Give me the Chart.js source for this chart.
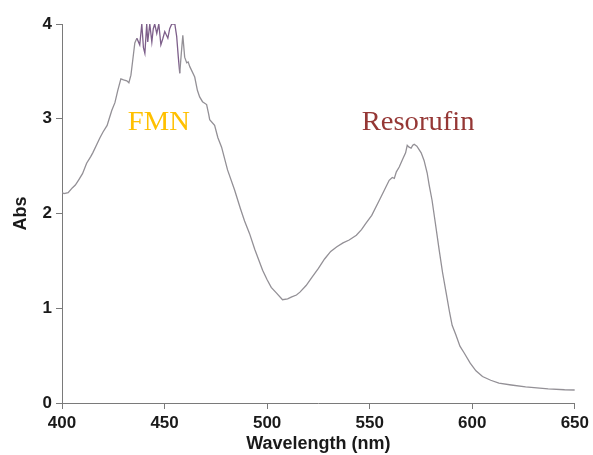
<!DOCTYPE html>
<html>
<head>
<meta charset="utf-8">
<script src="https://cdn.jsdelivr.net/npm/chart.js@4"></script>
<style>
  html, body { margin: 0; padding: 0; background: #fff; }
  #wrap { width: 593px; height: 455px; }
</style>
</head>
<body>
<div id="wrap"><canvas id="myChart" width="593" height="455"></canvas></div>
<script>
// Absorbance spectrum
const wavelengths = [
  400, 401, 403, 405, 406.5, 408, 410, 412, 414, 415, 417, 418.5, 420, 422, 423, 424.3, 425.8, 427.2,
  428.7, 430, 431.6, 432.6, 433.6, 434.5, 435.5, 436.5, 437.9, 438.9, 439.7, 440.4, 441.3, 441.8,
  442.8, 443.8, 444.5, 445.2, 446.2, 447.2, 448.2, 449.2, 450.1, 451.6, 452.5, 453.5, 455, 455.9,
  456.7, 457.4, 458.2, 458.9, 459.8, 460.8, 461.5, 462.3, 464.7, 466, 467.1, 468.5, 470.5, 471.5,
  472, 474.4, 476, 477.8, 480.7, 484.1, 487, 489, 491.4, 494, 497.8, 500, 502, 504.6, 507.5, 510,
  512, 514.3, 516, 519, 522, 525, 528, 531, 534, 537, 540, 543.5, 546, 548.3, 551, 554.7, 557,
  559.5, 561, 562, 563, 564.4, 566, 567.5, 568.3, 569.2, 570.2, 571, 571.7, 573, 575.1, 576.5,
  578, 579, 580.4, 582, 583.9, 585.5, 587.3, 589, 590.2, 592, 594, 596, 599, 601.8, 605, 609, 613,
  619, 626, 637, 645, 650
];
const absorbance = [
  2.22, 2.21, 2.22, 2.27, 2.30, 2.35, 2.42, 2.53, 2.60, 2.64, 2.73, 2.80, 2.86, 2.93, 3.00, 3.09, 3.17, 3.30,
  3.42, 3.41, 3.40, 3.38, 3.46, 3.62, 3.80, 3.85, 3.78, 4.00, 3.75, 3.69, 4.00, 3.81,
  4.00, 3.81, 3.95, 4.00, 3.90, 4.00, 3.78, 3.85, 3.92, 3.85, 3.95, 4.00, 4.00, 3.87,
  3.65, 3.48, 3.70, 3.88, 3.65, 3.59, 3.60, 3.55, 3.44, 3.30, 3.23, 3.18, 3.15, 3.05,
  2.99, 2.93, 2.80, 2.70, 2.46, 2.25, 2.05, 1.92, 1.79, 1.62, 1.40, 1.30, 1.22, 1.16, 1.09, 1.10,
  1.12, 1.14, 1.17, 1.24, 1.33, 1.42, 1.52, 1.60, 1.65, 1.69, 1.72, 1.77, 1.83, 1.90, 1.98, 2.14, 2.24,
  2.35, 2.38, 2.37, 2.44, 2.49, 2.57, 2.64, 2.72, 2.70, 2.69, 2.72, 2.73, 2.71, 2.64, 2.56,
  2.43, 2.30, 2.14, 1.90, 1.61, 1.38, 1.16, 0.95, 0.82, 0.72, 0.60, 0.53, 0.42, 0.34, 0.28, 0.24, 0.21,
  0.19, 0.17, 0.15, 0.14, 0.137
];
const xTicks = [400, 450, 500, 550, 600, 650];
const yTicks = [0, 1, 2, 3, 4];

// Text labels on the plot (wavelength, absorbance of baseline)
const notes = [
  { text: 'FMN', x: 447.2, y: 2.88, color: '#FFC000' },
  { text: 'Resorufin', x: 573.6, y: 2.88, color: '#953735' }
];

document.addEventListener('DOMContentLoaded', function() {
  const points = wavelengths.map((w, i) => ({ x: w, y: absorbance[i] }));
  const axisColor = '#7a7a7a';
  const tickFont = { family: 'Liberation Sans, Arial, sans-serif', size: 17, weight: 'bold' };
  const titleFont = { family: 'Liberation Sans, Arial, sans-serif', size: 18, weight: 'bold' };

  // draws the two compound names
  const notesPlugin = {
    id: 'notes',
    afterDatasetsDraw(chart) {
      const ctx = chart.ctx;
      const xs = chart.scales.x, ys = chart.scales.y;
      notes.forEach(n => {
        ctx.save();
        ctx.font = '27px "Liberation Serif", "Times New Roman", serif';
        ctx.fillStyle = n.color;
        ctx.textAlign = 'center';
        ctx.textBaseline = 'alphabetic';
        ctx.translate(xs.getPixelForValue(n.x), ys.getPixelForValue(n.y));
        ctx.scale(1.06, 1);
        ctx.fillText(n.text, 0, 0);
        ctx.restore();
      });
    }
  };

  const config = {
    type: 'line',
    data: {
      datasets: [{
        label: 'Abs',
        data: points,
        borderColor: '#939096',
        borderWidth: 1.3,
        pointRadius: 0,
        tension: 0,
        segment: {
          borderColor: c => (c.p0.parsed.x > 436 && c.p0.parsed.x < 457) ? '#7d5f8a' : undefined
        }
      }]
    },
    options: {
      responsive: false,
      animation: false,
      layout: { padding: { left: 0, right: 17, top: 24, bottom: 0 } },
      plugins: {
        legend: { display: false },
        tooltip: { enabled: false }
      },
      scales: {
        x: {
          type: 'linear',
          min: 400,
          max: 650,
          afterBuildTicks: s => { s.ticks = xTicks.map(v => ({ value: v })); },
          afterFit: s => { s.height = 52; },
          ticks: { color: '#1a1a1a', font: tickFont, padding: 4, maxRotation: 0 },
          grid: { drawOnChartArea: false, color: axisColor, tickLength: 6 },
          border: { color: axisColor },
          title: {
            display: true,
            text: 'Wavelength (nm)',
            color: '#1a1a1a',
            font: titleFont,
            padding: { top: 0, bottom: 0 }
          }
        },
        y: {
          min: 0,
          max: 4,
          afterBuildTicks: s => { s.ticks = yTicks.map(v => ({ value: v })); },
          afterFit: s => { s.width = 62; },
          ticks: { color: '#1a1a1a', font: tickFont, padding: 4 },
          grid: { drawOnChartArea: false, color: axisColor, tickLength: 6 },
          border: { color: axisColor },
          title: {
            display: true,
            text: 'Abs',
            color: '#1a1a1a',
            font: titleFont,
            padding: { top: 10, bottom: 0 }
          }
        }
      }
    },
    plugins: [notesPlugin]
  };

  var myChart = new Chart(document.getElementById('myChart'), config);
});
</script>
</body>
</html>
